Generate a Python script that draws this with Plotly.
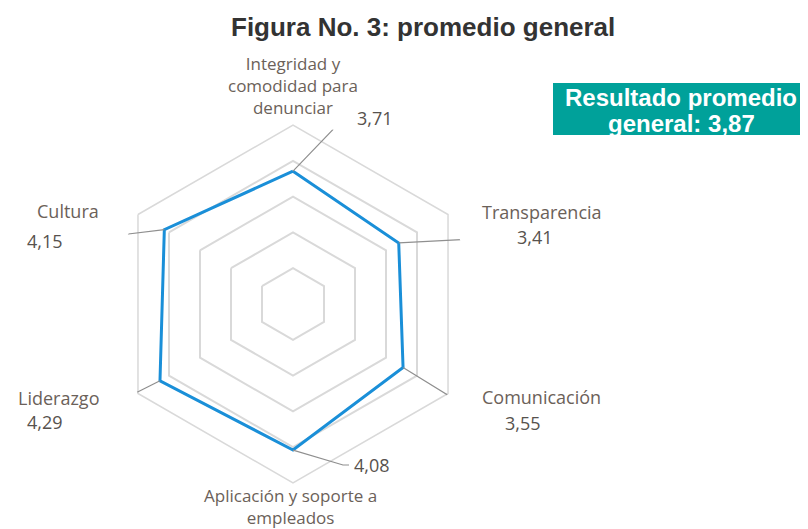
import math
import plotly.graph_objects as go

# ---------------- data ----------------
categories = [
    "Integridad y<br>comodidad para<br>denunciar",
    "Transparencia",
    "Comunicación",
    "Aplicación y soporte a<br>empleados",
    "Liderazgo",
    "Cultura",
]
values = [3.71, 3.41, 3.55, 4.08, 4.29, 4.15]
overall_average = 3.87
title_text = "Figura No. 3: promedio general"
box_lines = ["Resultado promedio", "general: {}"]
radial_ticks = [1, 2, 3, 4]
radial_max = 5

# ---------------- layout / style ----------------
W, H = 808, 529
OFF = 8                    # page body margin
CX, CY = 293, 304          # pixel centre of the radar (page pixels)
RPX = 179                  # pixel radius of the outer ring
PPU = RPX / radial_max     # pixels per unit

GRID = "#d9d9d9"
LINE_BLUE = "#1a8fd8"
LEADER = "#8f8f8f"
LABEL_COL = "#6b6159"
VALUE_COL = "#57524e"
FONT = "Open Sans, Liberation Sans, Arial, sans-serif"
BOLD_FONT = "Liberation Sans, Arial, sans-serif"

# label placement (page pixels, centre of label block): (x, y, xanchor)
cat_label_pos = [
    (293, 85, "center"),
    (480, 212, "left"),
    (480, 397, "left"),
    (290, 506, "center"),
    (101, 398, "right"),
    (101, 211, "right"),
]
val_label_pos = [
    (355, 118, "left"),
    (515, 237, "left"),
    (503, 423, "left"),
    (352, 465, "left"),
    (65, 422, "right"),
    (65, 241, "right"),
]
# leader line bend / end points (page pixels) after the data vertex
leader_pts = [
    [(345, 117), (352, 117)],
    [(511, 237)],
    [(490, 421), (498, 421)],
    [(343, 465), (349, 465)],
    [(80, 421), (70, 421)],
    [(70, 241)],
]


def px(x):
    return (x - OFF) / W


def py(y):
    return 1 - (y - OFF) / H


def to_polar(x, y):
    dx, dy = x - CX, CY - y
    return math.hypot(dx, dy) / PPU, math.degrees(math.atan2(dy, dx))


domain = dict(x=[px(CX - RPX), px(CX + RPX)], y=[py(CY + RPX), py(CY - RPX)])

fig = go.Figure()

# main radar line
fig.add_trace(go.Scatterpolar(
    r=values + [values[0]],
    theta=categories + [categories[0]],
    mode="lines",
    line=dict(color=LINE_BLUE, width=3),
    hoverinfo="skip",
    subplot="polar",
    showlegend=False,
))

# leader lines on an overlaid numeric polar
n = len(categories)
for i, v in enumerate(values):
    ang = 90 - i * 360 / n
    rs, ts = [v], [ang]
    for (x, y) in leader_pts[i]:
        r_, t_ = to_polar(x, y)
        rs.append(r_)
        ts.append(t_)
    fig.add_trace(go.Scatterpolar(
        r=rs, theta=ts, mode="lines",
        line=dict(color=LEADER, width=1.2),
        hoverinfo="skip", cliponaxis=False,
        subplot="polar2", showlegend=False,
    ))

annotations = []
for i, cat in enumerate(categories):
    x, y, xa = cat_label_pos[i]
    multi = "<br>" in cat
    annotations.append(dict(
        x=px(x), y=py(y), xref="paper", yref="paper", text=cat,
        showarrow=False, xanchor=xa, yanchor="middle", align="center",
        font=dict(family=FONT, size=17 if multi else 18, color=LABEL_COL),
    ))
    x, y, xa = val_label_pos[i]
    annotations.append(dict(
        x=px(x), y=py(y), xref="paper", yref="paper",
        text=f"{values[i]:.2f}".replace(".", ","),
        showarrow=False, xanchor=xa, yanchor="middle",
        font=dict(family=FONT, size=18, color=VALUE_COL),
    ))

# title
annotations.append(dict(
    x=px(423), y=py(27), xref="paper", yref="paper", text=f"<b>{title_text}</b>",
    showarrow=False, xanchor="center", yanchor="middle",
    font=dict(family=BOLD_FONT, size=26, color="#333333"),
))
# result box text
avg_txt = f"{overall_average:.2f}".replace(".", ",")
for k, line in enumerate(box_lines):
    annotations.append(dict(
        x=px(681), y=py(97 + k * 26), xref="paper", yref="paper",
        text="<b>" + line.format(avg_txt) + "</b>",
        showarrow=False, xanchor="center", yanchor="middle",
        font=dict(family=BOLD_FONT, size=24, color="white"),
        height=26,
    ))

fig.update_layout(
    width=W, height=H,
    margin=dict(l=0, r=0, t=0, b=0),
    paper_bgcolor="white",
    showlegend=False,
    polar=dict(
        domain=domain,
        bgcolor="white",
        gridshape="linear",
        angularaxis=dict(
            type="category", categoryarray=categories,
            direction="clockwise", rotation=90,
            showticklabels=False, ticks="", showgrid=False,
            showline=True, linecolor=GRID, linewidth=1.5,
        ),
        radialaxis=dict(
            range=[0, radial_max], tickvals=radial_ticks,
            showticklabels=False, ticks="", showline=False,
            gridcolor=GRID, gridwidth=1.5,
        ),
    ),
    polar2=dict(
        domain=domain,
        bgcolor="rgba(0,0,0,0)",
        angularaxis=dict(
            direction="counterclockwise", rotation=0, visible=False,
            showgrid=False, showline=False, showticklabels=False, ticks="",
        ),
        radialaxis=dict(
            range=[0, radial_max], visible=False,
            showgrid=False, showline=False, showticklabels=False, ticks="",
        ),
    ),
    shapes=[dict(
        type="rect", xref="paper", yref="paper",
        x0=px(553), x1=px(808), y0=py(135), y1=py(83),
        fillcolor="#00a19a", line=dict(width=0), layer="below",
    )],
    annotations=annotations,
)

fig.write_html("out.html")
